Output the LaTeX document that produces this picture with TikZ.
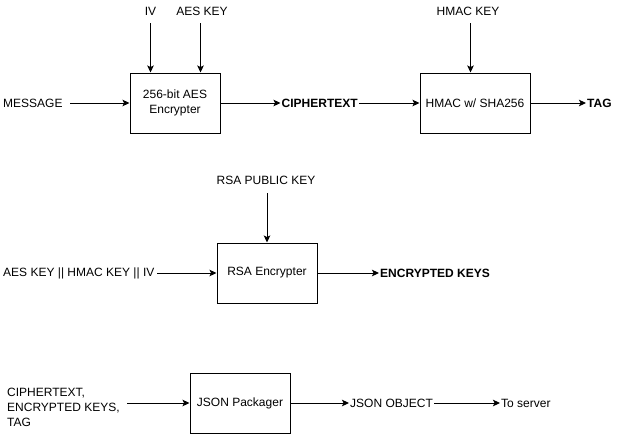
\documentclass[tikz,border=0pt]{standalone}
\usepackage{fontspec}
\setmainfont{Liberation Sans}
\usetikzlibrary{arrows.meta}
\begin{document}
\begin{tikzpicture}[x=1pt,y=-1pt,
  font=\fontsize{12}{15}\selectfont,
  box/.style={draw,line width=1pt,minimum height=60pt,align=center,inner sep=2pt},
  lbl/.style={inner xsep=1pt,inner ysep=0pt},
  bl/.style={lbl,font=\fontsize{12}{15}\selectfont\bfseries},
  arr/.style={line width=1pt,-{Stealth[length=7pt,width=6.5pt,inset=1.5pt]}}]
\useasboundingbox (0,0) rectangle (631,434);
% row 1
\node[box,minimum width=90pt] (aes) at (175,103) {256-bit AES\\Encrypter};
\node[box,minimum width=110pt] (hmac) at (475,103) {HMAC w/ SHA256};
\node[lbl] (iv) at (150.5,11) {IV};
\node[lbl] (aeskey) at (202,11) {AES KEY};
\node[lbl] (hmackey) at (468,11) {HMAC KEY};
\coordinate (ivs) at (150.5,23);
\coordinate (aks) at (200.5,23);
\coordinate (hks) at (470.5,23);
\node[lbl,anchor=west] (msg) at (2,103) {MESSAGE};
\coordinate (msge) at (70,103);
\node[bl,anchor=west] (ct) at (280.5,103) {CIPHERTEXT};
\node[bl,anchor=west] (tag) at (586,103) {TAG};
\draw[arr] (ivs) -- (ivs |- aes.north);
\draw[arr] (aks) -- (aks |- aes.north);
\draw[arr] (hks) -- (hks |- hmac.north);
\draw[arr] (msge) -- (aes.west);
\draw[arr] (aes.east) -- (ct.west);
\draw[arr] (ct.east) -- (hmac.west);
\draw[arr] (hmac.east) -- (tag.west);
% row 2
\node[box,minimum width=100pt] (rsa) at (267,273) {RSA Encrypter};
\node[lbl] (rpk) at (266,180) {RSA PUBLIC KEY};
\coordinate (rpks) at (267,193);
\node[lbl,anchor=west] (keys) at (2,273) {AES KEY || HMAC KEY || IV};
\coordinate (keyse) at (157,273);
\node[bl,anchor=west] (enc) at (379,273) {ENCRYPTED KEYS};
\draw[arr] (rpks) -- (rsa.north);
\draw[arr] (keyse) -- (rsa.west);
\draw[arr] (rsa.east) -- (enc.west);
% row 3
\node[box,minimum width=100pt] (json) at (240,403) {JSON Packager};
\node[lbl,anchor=west,align=left] (in3) at (6,407) {CIPHERTEXT,\\ENCRYPTED KEYS,\\TAG};
\coordinate (in3e) at (127,403);
\node[lbl,anchor=west] (jo) at (349,403) {JSON OBJECT};
\node[lbl,anchor=west] (ts) at (500,403) {To server};
\draw[arr] (in3e) -- (json.west);
\draw[arr] (json.east) -- (jo.west);
\draw[arr] (jo.east) -- (ts.west);
\end{tikzpicture}
\end{document}
